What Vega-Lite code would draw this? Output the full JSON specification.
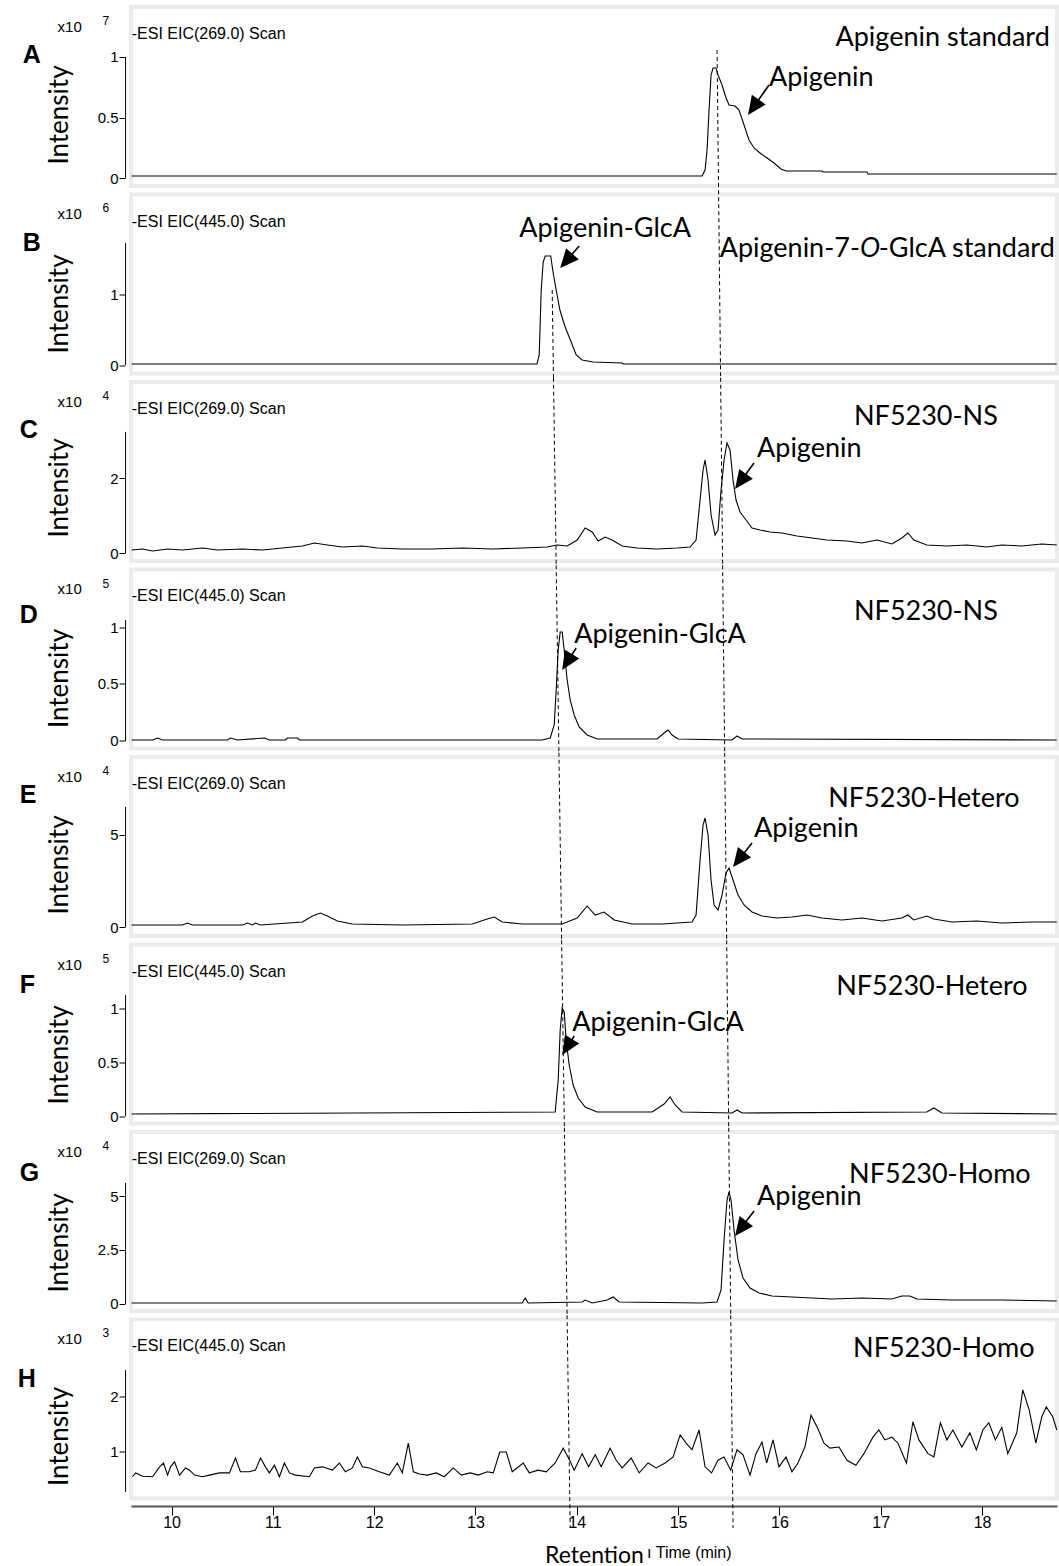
{
"$schema": "https://vega.github.io/schema/vega-lite/v6.json",
"background": "white",
"padding": {"left": 15, "top": 5, "right": 0, "bottom": 0},
"spacing": 8.5,
"bounds": "flush",
"resolve": {"scale": {"x": "independent", "y": "independent"}},
"config": {
  "view": {"stroke": "#ebebeb", "strokeWidth": 4},
  "axisY": {"title": null, "domain": false, "tickSize": 6, "tickColor": "black", "offset": 6, "labelFont": "Liberation Sans", "labelFontSize": 15, "labelColor": "black", "labelPadding": 1, "format": ".2~g", "grid": false},
  "style": {
    "lt": {"font": "Liberation Sans", "fontSize": 25, "fontWeight": "bold", "align": "left", "baseline": "alphabetic", "fill": "black"},
    "x10": {"font": "Liberation Sans", "fontSize": 15, "align": "left", "baseline": "alphabetic", "fill": "black"},
    "ex": {"font": "Liberation Sans", "fontSize": 12, "align": "left", "baseline": "alphabetic", "fill": "black"},
    "esi": {"font": "Liberation Sans", "fontSize": 16, "align": "left", "baseline": "alphabetic", "fill": "black"},
    "sr": {"font": "Lato", "fontSize": 27, "align": "right", "baseline": "alphabetic", "fill": "black"},
    "sc": {"font": "Lato", "fontSize": 27, "align": "center", "baseline": "alphabetic", "fill": "black"},
    "si": {"font": "Lato", "fontSize": 27, "fontStyle": "italic", "align": "left", "baseline": "alphabetic", "fill": "black"},
    "an": {"font": "Lato", "fontSize": 27, "align": "left", "baseline": "alphabetic", "fill": "black"},
    "in": {"font": "Lato", "fontSize": 26, "align": "center", "baseline": "alphabetic", "angle": 270, "fill": "black"},
    "tm": {"font": "Liberation Sans", "fontSize": 16, "align": "left", "baseline": "alphabetic", "fill": "black"}
  }
},
"datasets": {
"tr": [
{"p":"A","t":9.6055,"v":0.0165},{"p":"A","t":15.2367,"v":0.0165},{"p":"A","t":15.2663,"v":0.0661},{"p":"A","t":15.286,"v":0.2314},{"p":"A","t":15.3057,"v":0.562},{"p":"A","t":15.3254,"v":0.8512},{"p":"A","t":15.3452,"v":0.9091},{"p":"A","t":15.3747,"v":0.9091},{"p":"A","t":15.3945,"v":0.8512},{"p":"A","t":15.4339,"v":0.7686},{"p":"A","t":15.4734,"v":0.6612},{"p":"A","t":15.5029,"v":0.6033},{"p":"A","t":15.5621,"v":0.595},{"p":"A","t":15.6016,"v":0.562},{"p":"A","t":15.6509,"v":0.438},{"p":"A","t":15.7002,"v":0.314},{"p":"A","t":15.7495,"v":0.2479},{"p":"A","t":15.8087,"v":0.2066},{"p":"A","t":15.8777,"v":0.1653},{"p":"A","t":15.9467,"v":0.124},{"p":"A","t":16.0158,"v":0.0744},{"p":"A","t":16.0651,"v":0.0579},{"p":"A","t":16.4201,"v":0.0579},{"p":"A","t":16.43,"v":0.0496},{"p":"A","t":16.8639,"v":0.0496},{"p":"A","t":16.8737,"v":0.0331},{"p":"A","t":18.7377,"v":0.0331},
{"p":"B","t":9.6055,"v":0.0141},{"p":"B","t":13.6075,"v":0.0141},{"p":"B","t":13.6292,"v":0.1408},{"p":"B","t":13.6489,"v":1.0563},{"p":"B","t":13.6686,"v":1.4507},{"p":"B","t":13.6883,"v":1.5352},{"p":"B","t":13.7426,"v":1.5352},{"p":"B","t":13.7672,"v":1.2958},{"p":"B","t":13.7968,"v":1.0563},{"p":"B","t":13.8333,"v":0.7746},{"p":"B","t":13.8856,"v":0.5352},{"p":"B","t":13.9448,"v":0.3239},{"p":"B","t":13.9941,"v":0.1408},{"p":"B","t":14.0532,"v":0.0704},{"p":"B","t":14.1617,"v":0.0423},{"p":"B","t":14.4477,"v":0.0282},{"p":"B","t":14.4576,"v":0.0141},{"p":"B","t":18.7377,"v":0.0141},
{"p":"C","t":9.6055,"v":0.08},{"p":"C","t":9.714,"v":0.1067},{"p":"C","t":9.8126,"v":0.0533},{"p":"C","t":9.9606,"v":0.1067},{"p":"C","t":10.1085,"v":0.08},{"p":"C","t":10.3057,"v":0.1333},{"p":"C","t":10.4536,"v":0.08},{"p":"C","t":10.7002,"v":0.1067},{"p":"C","t":10.8974,"v":0.08},{"p":"C","t":11.0947,"v":0.1333},{"p":"C","t":11.2919,"v":0.1867},{"p":"C","t":11.4103,"v":0.2667},{"p":"C","t":11.5385,"v":0.2133},{"p":"C","t":11.6864,"v":0.16},{"p":"C","t":11.8836,"v":0.1867},{"p":"C","t":12.0315,"v":0.1333},{"p":"C","t":12.2781,"v":0.1067},{"p":"C","t":12.574,"v":0.1067},{"p":"C","t":12.8698,"v":0.1333},{"p":"C","t":13.1657,"v":0.1067},{"p":"C","t":13.4615,"v":0.1333},{"p":"C","t":13.7081,"v":0.16},{"p":"C","t":13.8067,"v":0.2133},{"p":"C","t":13.9053,"v":0.1867},{"p":"C","t":14.0039,"v":0.3467},{"p":"C","t":14.0828,"v":0.6667},{"p":"C","t":14.1519,"v":0.56},{"p":"C","t":14.211,"v":0.32},{"p":"C","t":14.2801,"v":0.4267},{"p":"C","t":14.3491,"v":0.3467},{"p":"C","t":14.4477,"v":0.1867},{"p":"C","t":14.5956,"v":0.1333},{"p":"C","t":14.7929,"v":0.1067},{"p":"C","t":14.9901,"v":0.1333},{"p":"C","t":15.1183,"v":0.16},{"p":"C","t":15.1775,"v":0.3467},{"p":"C","t":15.2169,"v":1.4133},{"p":"C","t":15.2465,"v":2.2133},{"p":"C","t":15.2663,"v":2.48},{"p":"C","t":15.2958,"v":1.9467},{"p":"C","t":15.3254,"v":1.0133},{"p":"C","t":15.3649,"v":0.48},{"p":"C","t":15.3945,"v":0.6133},{"p":"C","t":15.424,"v":1.68},{"p":"C","t":15.4537,"v":2.48},{"p":"C","t":15.4832,"v":2.9333},{"p":"C","t":15.5128,"v":2.7467},{"p":"C","t":15.5424,"v":1.9467},{"p":"C","t":15.572,"v":1.4133},{"p":"C","t":15.6114,"v":1.0933},{"p":"C","t":15.6706,"v":0.88},{"p":"C","t":15.7298,"v":0.6667},{"p":"C","t":15.8087,"v":0.6133},{"p":"C","t":15.9073,"v":0.56},{"p":"C","t":16.0256,"v":0.5333},{"p":"C","t":16.1736,"v":0.4533},{"p":"C","t":16.3215,"v":0.4},{"p":"C","t":16.4694,"v":0.3467},{"p":"C","t":16.6666,"v":0.32},{"p":"C","t":16.8146,"v":0.2667},{"p":"C","t":16.9625,"v":0.3467},{"p":"C","t":17.1104,"v":0.24},{"p":"C","t":17.209,"v":0.4},{"p":"C","t":17.2682,"v":0.5333},{"p":"C","t":17.3274,"v":0.3467},{"p":"C","t":17.4556,"v":0.2133},{"p":"C","t":17.6528,"v":0.1867},{"p":"C","t":17.8501,"v":0.2133},{"p":"C","t":18.0473,"v":0.16},{"p":"C","t":18.1952,"v":0.2133},{"p":"C","t":18.3925,"v":0.1867},{"p":"C","t":18.5897,"v":0.24},{"p":"C","t":18.7377,"v":0.2133},
{"p":"D","t":9.6055,"v":0.0088},{"p":"D","t":9.8126,"v":0.0088},{"p":"D","t":9.8619,"v":0.0263},{"p":"D","t":9.9112,"v":0.0088},{"p":"D","t":10.5523,"v":0.0088},{"p":"D","t":10.5819,"v":0.0263},{"p":"D","t":10.6509,"v":0.0088},{"p":"D","t":10.9172,"v":0.0263},{"p":"D","t":10.9665,"v":0.0088},{"p":"D","t":11.1243,"v":0.0088},{"p":"D","t":11.144,"v":0.0263},{"p":"D","t":11.2426,"v":0.0263},{"p":"D","t":11.2623,"v":0.0088},{"p":"D","t":13.6588,"v":0.0088},{"p":"D","t":13.7377,"v":0.0263},{"p":"D","t":13.7771,"v":0.1404},{"p":"D","t":13.7968,"v":0.4474},{"p":"D","t":13.8166,"v":0.7982},{"p":"D","t":13.8363,"v":0.9561},{"p":"D","t":13.856,"v":0.9561},{"p":"D","t":13.8757,"v":0.7982},{"p":"D","t":13.9053,"v":0.5351},{"p":"D","t":13.9349,"v":0.3596},{"p":"D","t":13.9743,"v":0.2281},{"p":"D","t":14.0237,"v":0.1228},{"p":"D","t":14.1025,"v":0.0526},{"p":"D","t":14.2012,"v":0.0175},{"p":"D","t":14.7929,"v":0.0175},{"p":"D","t":14.8619,"v":0.0702},{"p":"D","t":14.9014,"v":0.0965},{"p":"D","t":14.9408,"v":0.0526},{"p":"D","t":15.0,"v":0.0175},{"p":"D","t":15.5325,"v":0.0088},{"p":"D","t":15.5818,"v":0.0439},{"p":"D","t":15.6311,"v":0.0175},{"p":"D","t":18.7377,"v":0.0088},
{"p":"E","t":9.6055,"v":0.1087},{"p":"E","t":10.1085,"v":0.1087},{"p":"E","t":10.1578,"v":0.2174},{"p":"E","t":10.2071,"v":0.1087},{"p":"E","t":10.7002,"v":0.1087},{"p":"E","t":10.7495,"v":0.2174},{"p":"E","t":10.7988,"v":0.1087},{"p":"E","t":10.8284,"v":0.2174},{"p":"E","t":10.8777,"v":0.1087},{"p":"E","t":11.2919,"v":0.2717},{"p":"E","t":11.3905,"v":0.5978},{"p":"E","t":11.4694,"v":0.7609},{"p":"E","t":11.5385,"v":0.5978},{"p":"E","t":11.6371,"v":0.3261},{"p":"E","t":11.785,"v":0.163},{"p":"E","t":12.2781,"v":0.1087},{"p":"E","t":12.9684,"v":0.163},{"p":"E","t":13.1164,"v":0.4348},{"p":"E","t":13.1854,"v":0.5435},{"p":"E","t":13.2643,"v":0.2717},{"p":"E","t":13.4615,"v":0.163},{"p":"E","t":13.856,"v":0.163},{"p":"E","t":14.0039,"v":0.4891},{"p":"E","t":14.1025,"v":1.1413},{"p":"E","t":14.1814,"v":0.6522},{"p":"E","t":14.2702,"v":0.8152},{"p":"E","t":14.3688,"v":0.3804},{"p":"E","t":14.5463,"v":0.163},{"p":"E","t":14.8422,"v":0.163},{"p":"E","t":15.138,"v":0.2717},{"p":"E","t":15.1775,"v":0.6522},{"p":"E","t":15.2169,"v":3.6413},{"p":"E","t":15.2465,"v":5.5435},{"p":"E","t":15.2663,"v":5.9239},{"p":"E","t":15.2958,"v":5.0},{"p":"E","t":15.3254,"v":2.5543},{"p":"E","t":15.355,"v":1.1957},{"p":"E","t":15.3945,"v":0.9239},{"p":"E","t":15.4339,"v":1.7391},{"p":"E","t":15.4734,"v":2.9348},{"p":"E","t":15.5029,"v":3.2065},{"p":"E","t":15.5424,"v":2.5543},{"p":"E","t":15.5917,"v":1.7391},{"p":"E","t":15.6509,"v":1.1957},{"p":"E","t":15.7298,"v":0.8152},{"p":"E","t":15.8284,"v":0.5978},{"p":"E","t":15.9763,"v":0.4891},{"p":"E","t":16.1242,"v":0.5435},{"p":"E","t":16.2722,"v":0.6522},{"p":"E","t":16.4201,"v":0.4891},{"p":"E","t":16.6173,"v":0.3804},{"p":"E","t":16.8146,"v":0.4891},{"p":"E","t":17.0118,"v":0.3261},{"p":"E","t":17.209,"v":0.4891},{"p":"E","t":17.2682,"v":0.6522},{"p":"E","t":17.3274,"v":0.3804},{"p":"E","t":17.4556,"v":0.5978},{"p":"E","t":17.5246,"v":0.4348},{"p":"E","t":17.7021,"v":0.2717},{"p":"E","t":17.9487,"v":0.3261},{"p":"E","t":18.1952,"v":0.2174},{"p":"E","t":18.4911,"v":0.2717},{"p":"E","t":18.7377,"v":0.2717},
{"p":"F","t":9.6055,"v":0.0185},{"p":"F","t":13.787,"v":0.037},{"p":"F","t":13.8166,"v":0.3333},{"p":"F","t":13.8363,"v":0.7963},{"p":"F","t":13.856,"v":1.0},{"p":"F","t":13.8757,"v":0.963},{"p":"F","t":13.8954,"v":0.7037},{"p":"F","t":13.925,"v":0.4722},{"p":"F","t":13.9645,"v":0.287},{"p":"F","t":14.0138,"v":0.1667},{"p":"F","t":14.0828,"v":0.0833},{"p":"F","t":14.2012,"v":0.037},{"p":"F","t":14.7436,"v":0.037},{"p":"F","t":14.8619,"v":0.1111},{"p":"F","t":14.9211,"v":0.1759},{"p":"F","t":14.9704,"v":0.1019},{"p":"F","t":15.0394,"v":0.037},{"p":"F","t":15.5325,"v":0.0278},{"p":"F","t":15.5818,"v":0.0556},{"p":"F","t":15.6311,"v":0.0278},{"p":"F","t":17.4556,"v":0.037},{"p":"F","t":17.5246,"v":0.0741},{"p":"F","t":17.6035,"v":0.0278},{"p":"F","t":18.7377,"v":0.0185},
{"p":"G","t":9.6055,"v":0.0463},{"p":"G","t":13.4615,"v":0.0463},{"p":"G","t":13.4911,"v":0.2778},{"p":"G","t":13.5207,"v":0.0463},{"p":"G","t":14.0532,"v":0.0926},{"p":"G","t":14.0828,"v":0.1852},{"p":"G","t":14.1519,"v":0.0463},{"p":"G","t":14.2998,"v":0.1852},{"p":"G","t":14.359,"v":0.3241},{"p":"G","t":14.4181,"v":0.0926},{"p":"G","t":15.2367,"v":0.0463},{"p":"G","t":15.3846,"v":0.0926},{"p":"G","t":15.424,"v":0.6481},{"p":"G","t":15.4537,"v":2.963},{"p":"G","t":15.4832,"v":4.8148},{"p":"G","t":15.5029,"v":5.1852},{"p":"G","t":15.5227,"v":4.8148},{"p":"G","t":15.5523,"v":3.4259},{"p":"G","t":15.5917,"v":2.037},{"p":"G","t":15.641,"v":1.2037},{"p":"G","t":15.71,"v":0.7407},{"p":"G","t":15.7988,"v":0.5093},{"p":"G","t":15.927,"v":0.3704},{"p":"G","t":16.1242,"v":0.3241},{"p":"G","t":16.3215,"v":0.2778},{"p":"G","t":16.5187,"v":0.2315},{"p":"G","t":16.8146,"v":0.2778},{"p":"G","t":17.1104,"v":0.2315},{"p":"G","t":17.209,"v":0.3704},{"p":"G","t":17.2879,"v":0.3704},{"p":"G","t":17.357,"v":0.2315},{"p":"G","t":17.7021,"v":0.1852},{"p":"G","t":18.1952,"v":0.1852},{"p":"G","t":18.7377,"v":0.1389},
{"p":"H","t":9.615,"v":0.55},{"p":"H","t":9.645,"v":0.62},{"p":"H","t":9.714,"v":0.56},{"p":"H","t":9.813,"v":0.55},{"p":"H","t":9.882,"v":0.73},{"p":"H","t":9.921,"v":0.8},{"p":"H","t":9.961,"v":0.58},{"p":"H","t":9.99,"v":0.73},{"p":"H","t":10.03,"v":0.82},{"p":"H","t":10.079,"v":0.58},{"p":"H","t":10.138,"v":0.71},{"p":"H","t":10.178,"v":0.67},{"p":"H","t":10.227,"v":0.58},{"p":"H","t":10.306,"v":0.55},{"p":"H","t":10.375,"v":0.58},{"p":"H","t":10.473,"v":0.62},{"p":"H","t":10.572,"v":0.62},{"p":"H","t":10.631,"v":0.89},{"p":"H","t":10.68,"v":0.64},{"p":"H","t":10.769,"v":0.64},{"p":"H","t":10.828,"v":0.67},{"p":"H","t":10.878,"v":0.89},{"p":"H","t":10.927,"v":0.73},{"p":"H","t":10.966,"v":0.62},{"p":"H","t":11.016,"v":0.76},{"p":"H","t":11.065,"v":0.55},{"p":"H","t":11.114,"v":0.8},{"p":"H","t":11.164,"v":0.62},{"p":"H","t":11.223,"v":0.58},{"p":"H","t":11.361,"v":0.55},{"p":"H","t":11.41,"v":0.71},{"p":"H","t":11.489,"v":0.73},{"p":"H","t":11.588,"v":0.67},{"p":"H","t":11.657,"v":0.8},{"p":"H","t":11.716,"v":0.64},{"p":"H","t":11.785,"v":0.71},{"p":"H","t":11.834,"v":0.91},{"p":"H","t":11.884,"v":0.73},{"p":"H","t":11.953,"v":0.71},{"p":"H","t":12.051,"v":0.64},{"p":"H","t":12.15,"v":0.58},{"p":"H","t":12.229,"v":0.8},{"p":"H","t":12.278,"v":0.62},{"p":"H","t":12.337,"v":1.16},{"p":"H","t":12.387,"v":0.64},{"p":"H","t":12.446,"v":0.6},{"p":"H","t":12.525,"v":0.58},{"p":"H","t":12.613,"v":0.62},{"p":"H","t":12.692,"v":0.55},{"p":"H","t":12.781,"v":0.71},{"p":"H","t":12.86,"v":0.58},{"p":"H","t":12.949,"v":0.62},{"p":"H","t":13.028,"v":0.58},{"p":"H","t":13.116,"v":0.64},{"p":"H","t":13.176,"v":0.62},{"p":"H","t":13.24,"v":1.0},{"p":"H","t":13.304,"v":1.0},{"p":"H","t":13.363,"v":0.64},{"p":"H","t":13.472,"v":0.8},{"p":"H","t":13.531,"v":0.62},{"p":"H","t":13.619,"v":0.67},{"p":"H","t":13.698,"v":0.64},{"p":"H","t":13.787,"v":0.8},{"p":"H","t":13.866,"v":1.07},{"p":"H","t":13.93,"v":0.85},{"p":"H","t":13.974,"v":0.67},{"p":"H","t":14.053,"v":0.97},{"p":"H","t":14.117,"v":0.73},{"p":"H","t":14.182,"v":0.95},{"p":"H","t":14.241,"v":0.73},{"p":"H","t":14.329,"v":1.07},{"p":"H","t":14.389,"v":0.85},{"p":"H","t":14.448,"v":0.71},{"p":"H","t":14.537,"v":0.89},{"p":"H","t":14.616,"v":0.62},{"p":"H","t":14.704,"v":0.8},{"p":"H","t":14.783,"v":0.71},{"p":"H","t":14.872,"v":0.8},{"p":"H","t":14.951,"v":0.91},{"p":"H","t":15.02,"v":1.31},{"p":"H","t":15.079,"v":1.16},{"p":"H","t":15.138,"v":1.04},{"p":"H","t":15.207,"v":1.4},{"p":"H","t":15.266,"v":0.73},{"p":"H","t":15.33,"v":0.62},{"p":"H","t":15.394,"v":0.85},{"p":"H","t":15.453,"v":0.91},{"p":"H","t":15.519,"v":0.67},{"p":"H","t":15.582,"v":1.04},{"p":"H","t":15.641,"v":0.95},{"p":"H","t":15.71,"v":0.58},{"p":"H","t":15.769,"v":0.97},{"p":"H","t":15.828,"v":1.18},{"p":"H","t":15.874,"v":0.8},{"p":"H","t":15.937,"v":1.22},{"p":"H","t":15.996,"v":0.73},{"p":"H","t":16.065,"v":0.91},{"p":"H","t":16.124,"v":0.64},{"p":"H","t":16.183,"v":0.8},{"p":"H","t":16.252,"v":1.09},{"p":"H","t":16.312,"v":1.67},{"p":"H","t":16.376,"v":1.44},{"p":"H","t":16.44,"v":1.16},{"p":"H","t":16.499,"v":1.07},{"p":"H","t":16.588,"v":1.09},{"p":"H","t":16.667,"v":0.85},{"p":"H","t":16.755,"v":0.76},{"p":"H","t":16.834,"v":0.97},{"p":"H","t":16.923,"v":1.27},{"p":"H","t":16.982,"v":1.4},{"p":"H","t":17.041,"v":1.22},{"p":"H","t":17.11,"v":1.27},{"p":"H","t":17.17,"v":1.16},{"p":"H","t":17.254,"v":0.8},{"p":"H","t":17.318,"v":1.55},{"p":"H","t":17.377,"v":1.22},{"p":"H","t":17.466,"v":0.97},{"p":"H","t":17.525,"v":0.91},{"p":"H","t":17.589,"v":1.53},{"p":"H","t":17.653,"v":1.22},{"p":"H","t":17.712,"v":1.4},{"p":"H","t":17.801,"v":1.09},{"p":"H","t":17.88,"v":1.35},{"p":"H","t":17.944,"v":1.04},{"p":"H","t":18.008,"v":1.4},{"p":"H","t":18.067,"v":1.53},{"p":"H","t":18.132,"v":1.22},{"p":"H","t":18.195,"v":1.45},{"p":"H","t":18.254,"v":0.97},{"p":"H","t":18.343,"v":1.35},{"p":"H","t":18.402,"v":2.13},{"p":"H","t":18.466,"v":1.76},{"p":"H","t":18.531,"v":1.16},{"p":"H","t":18.59,"v":1.64},{"p":"H","t":18.634,"v":1.82},{"p":"H","t":18.698,"v":1.64},{"p":"H","t":18.738,"v":1.4}
],
"gd": [
{"p":"A","t":15.3846,"v":1.0579,"t2":15.3996,"v2":-0.1012},
{"p":"B","t":15.3996,"v":2.4613,"t2":15.4197,"v2":-0.1796},
{"p":"B","t":13.7574,"v":1.0563,"t2":13.77,"v2":-0.1796},
{"p":"C","t":15.4197,"v":4.6733,"t2":15.4397,"v2":-0.3267},
{"p":"C","t":13.77,"v":4.6733,"t2":13.7968,"v2":-0.3267},
{"p":"D","t":15.4397,"v":1.5417,"t2":15.4597,"v2":-0.1031},
{"p":"D","t":13.7968,"v":1.5417,"t2":13.8238,"v2":-0.1031},
{"p":"E","t":15.4597,"v":9.4701,"t2":15.4797,"v2":-0.7201},
{"p":"E","t":13.8238,"v":9.4701,"t2":13.8506,"v2":-0.7201},
{"p":"F","t":15.4797,"v":1.6273,"t2":15.4997,"v2":-0.1088},
{"p":"F","t":13.8506,"v":1.6273,"t2":13.8775,"v2":-0.1088},
{"p":"G","t":15.4997,"v":8.1597,"t2":15.5197,"v2":-0.5208},
{"p":"G","t":13.8775,"v":8.1597,"t2":13.9044,"v2":-0.5208},
{"p":"H","t":15.5197,"v":3.4864,"t2":15.5424,"v2":-0.3818},
{"p":"H","t":13.9044,"v":3.4864,"t2":13.9349,"v2":-0.3818}
],
"ax": [
{"p":"A","t":9.5464,"v":0,"v2":1.0},
{"p":"B","t":9.5464,"v":0,"v2":1.718},
{"p":"C","t":9.5464,"v":0,"v2":3.227},
{"p":"D","t":9.5464,"v":0,"v2":1.061},
{"p":"E","t":9.5464,"v":0,"v2":6.52},
{"p":"F","t":9.5464,"v":0,"v2":1.12},
{"p":"G","t":9.5464,"v":0,"v2":5.6},
{"p":"H","t":9.5464,"v":0.273,"v2":2.49}
],
"ar": [
{"p":"A","t":15.8974,"v":0.7686,"t2":15.7357,"v2":0.5752},
{"p":"B","t":14.0237,"v":1.6761,"t2":13.8876,"v2":1.4521},
{"p":"C","t":15.7495,"v":2.4,"t2":15.6085,"v2":1.88},
{"p":"D","t":13.9941,"v":0.8158,"t2":13.8984,"v2":0.6816},
{"p":"E","t":15.7298,"v":4.5652,"t2":15.5917,"v2":3.6033},
{"p":"F","t":13.9744,"v":0.7407,"t2":13.8984,"v2":0.6278},
{"p":"G","t":15.7495,"v":4.3056,"t2":15.6095,"v2":3.4444}
],
"ah": [
{"p":"A","t":15.6903,"v":0.5207},
{"p":"B","t":13.8363,"v":1.3662},
{"p":"C","t":15.5621,"v":1.7067},
{"p":"D","t":13.856,"v":0.6228},
{"p":"E","t":15.5424,"v":3.2609},
{"p":"F","t":13.856,"v":0.5648},
{"p":"G","t":15.5621,"v":3.1481}
],
"tx": [
{"p":"A","k":"lt","t":8.5306,"v":0.9504,"s":"A"},
{"p":"A","k":"x10","t":8.8757,"v":1.2066,"s":"x10"},
{"p":"A","k":"ex","t":9.3195,"v":1.2645,"s":"7"},
{"p":"A","k":"esi","t":9.607,"v":1.1488,"s":"-ESI EIC(269.0) Scan"},
{"p":"A","k":"sr","t":18.6686,"v":1.0909,"s":"Apigenin standard"},
{"p":"A","k":"an","t":15.8974,"v":0.7603,"s":"Apigenin"},
{"p":"A","k":"in","t":8.9744,"v":0.5207,"s":"Intensity"},
{"p":"B","k":"lt","t":8.5306,"v":1.6056,"s":"B"},
{"p":"B","k":"x10","t":8.8757,"v":2.0493,"s":"x10"},
{"p":"B","k":"ex","t":9.3195,"v":2.1479,"s":"6"},
{"p":"B","k":"esi","t":9.607,"v":1.9507,"s":"-ESI EIC(445.0) Scan"},
{"p":"B","k":"sr","t":16.7948,"v":1.5211,"s":"Apigenin-7-"},
{"p":"B","k":"si","t":16.7948,"v":1.5211,"s":"O"},
{"p":"B","k":"sr","t":18.718,"v":1.5211,"s":"-GlcA standard"},
{"p":"B","k":"an","t":13.4319,"v":1.8028,"s":"Apigenin-GlcA"},
{"p":"B","k":"in","t":8.9744,"v":0.859,"s":"Intensity"},
{"p":"C","k":"lt","t":8.501,"v":3.0667,"s":"C"},
{"p":"C","k":"x10","t":8.8757,"v":3.8933,"s":"x10"},
{"p":"C","k":"ex","t":9.3195,"v":4.08,"s":"4"},
{"p":"C","k":"esi","t":9.607,"v":3.7067,"s":"-ESI EIC(269.0) Scan"},
{"p":"C","k":"sc","t":17.446,"v":3.4133,"s":"NF5230-NS"},
{"p":"C","k":"an","t":15.7791,"v":2.56,"s":"Apigenin"},
{"p":"C","k":"in","t":8.9744,"v":1.733,"s":"Intensity"},
{"p":"D","k":"lt","t":8.501,"v":1.0351,"s":"D"},
{"p":"D","k":"x10","t":8.8757,"v":1.2851,"s":"x10"},
{"p":"D","k":"ex","t":9.3195,"v":1.3465,"s":"5"},
{"p":"D","k":"esi","t":9.607,"v":1.2237,"s":"-ESI EIC(445.0) Scan"},
{"p":"D","k":"sc","t":17.446,"v":1.0614,"s":"NF5230-NS"},
{"p":"D","k":"an","t":13.9743,"v":0.8596,"s":"Apigenin-GlcA"},
{"p":"D","k":"in","t":8.9744,"v":0.548,"s":"Intensity"},
{"p":"E","k":"lt","t":8.501,"v":6.7391,"s":"E"},
{"p":"E","k":"x10","t":8.8757,"v":7.8804,"s":"x10"},
{"p":"E","k":"ex","t":9.3195,"v":8.2609,"s":"4"},
{"p":"E","k":"esi","t":9.607,"v":7.5,"s":"-ESI EIC(269.0) Scan"},
{"p":"E","k":"sc","t":17.426,"v":6.5217,"s":"NF5230-Hetero"},
{"p":"E","k":"an","t":15.7495,"v":4.8913,"s":"Apigenin"},
{"p":"E","k":"in","t":8.9744,"v":3.37,"s":"Intensity"},
{"p":"F","k":"lt","t":8.501,"v":1.1389,"s":"F"},
{"p":"F","k":"x10","t":8.8757,"v":1.3565,"s":"x10"},
{"p":"F","k":"ex","t":9.3195,"v":1.4213,"s":"5"},
{"p":"F","k":"esi","t":9.607,"v":1.2917,"s":"-ESI EIC(445.0) Scan"},
{"p":"F","k":"sc","t":17.505,"v":1.1204,"s":"NF5230-Hetero"},
{"p":"F","k":"an","t":13.9546,"v":0.787,"s":"Apigenin-GlcA"},
{"p":"F","k":"in","t":8.9744,"v":0.565,"s":"Intensity"},
{"p":"G","k":"lt","t":8.501,"v":5.6944,"s":"G"},
{"p":"G","k":"x10","t":8.8757,"v":6.8056,"s":"x10"},
{"p":"G","k":"ex","t":9.3195,"v":7.1296,"s":"4"},
{"p":"G","k":"esi","t":9.607,"v":6.4815,"s":"-ESI EIC(269.0) Scan"},
{"p":"G","k":"sc","t":17.584,"v":5.6019,"s":"NF5230-Homo"},
{"p":"G","k":"an","t":15.7791,"v":4.5833,"s":"Apigenin"},
{"p":"G","k":"in","t":8.9744,"v":2.824,"s":"Intensity"},
{"p":"H","k":"lt","t":8.4813,"v":2.1818,"s":"H"},
{"p":"H","k":"x10","t":8.8757,"v":2.9545,"s":"x10"},
{"p":"H","k":"ex","t":9.3195,"v":3.0818,"s":"3"},
{"p":"H","k":"esi","t":9.607,"v":2.8273,"s":"-ESI EIC(445.0) Scan"},
{"p":"H","k":"sc","t":17.623,"v":2.7273,"s":"NF5230-Homo"},
{"p":"H","k":"in","t":8.9744,"v":1.282,"s":"Intensity"},
{"p":"H","k":"tm","t":14.6943,"v":-0.9273,"s":"ı Time (min)"}
]
},
"vconcat": [
{"width": 926, "height": 179,
 "encoding": {"x": {"field": "t", "type": "quantitative", "scale": {"domain": [9.6, 18.74], "nice": false, "zero": false}, "axis": null},
  "y": {"field": "v", "type": "quantitative", "scale": {"domain": [-0.0661, 1.4132], "nice": false, "zero": false}, "axis": {"values": [0, 0.5, 1]}}},
 "layer": [
  {"data": {"name": "tr"}, "transform": [{"filter": "datum.p=='A'"}], "mark": {"type": "line", "color": "black", "strokeWidth": 1.1}},
  {"data": {"name": "gd"}, "transform": [{"filter": "datum.p=='A'"}], "mark": {"type": "rule", "color": "black", "strokeWidth": 1, "strokeDash": [4, 3]}, "encoding": {"x2": {"field": "t2"}, "y2": {"field": "v2"}}},
  {"data": {"name": "ax"}, "transform": [{"filter": "datum.p=='A'"}], "mark": {"type": "rule", "color": "black", "strokeWidth": 1}, "encoding": {"y2": {"field": "v2"}}},
  {"data": {"name": "ar"}, "transform": [{"filter": "datum.p=='A'"}], "mark": {"type": "rule", "color": "black", "strokeWidth": 1.6}, "encoding": {"x2": {"field": "t2"}, "y2": {"field": "v2"}}},
  {"data": {"name": "ah"}, "transform": [{"filter": "datum.p=='A'"}], "mark": {"type": "point", "shape": "M0,0L0.45,1L-0.45,1Z", "filled": true, "color": "black", "opacity": 1, "size": 1400, "angle": 215}},
  {"data": {"name": "tx"}, "transform": [{"filter": "datum.p=='A'&&datum.k=='lt'"}], "mark": {"type": "text", "style": "lt"}, "encoding": {"text": {"field": "s"}}},
  {"data": {"name": "tx"}, "transform": [{"filter": "datum.p=='A'&&datum.k=='x10'"}], "mark": {"type": "text", "style": "x10"}, "encoding": {"text": {"field": "s"}}},
  {"data": {"name": "tx"}, "transform": [{"filter": "datum.p=='A'&&datum.k=='ex'"}], "mark": {"type": "text", "style": "ex"}, "encoding": {"text": {"field": "s"}}},
  {"data": {"name": "tx"}, "transform": [{"filter": "datum.p=='A'&&datum.k=='esi'"}], "mark": {"type": "text", "style": "esi"}, "encoding": {"text": {"field": "s"}}},
  {"data": {"name": "tx"}, "transform": [{"filter": "datum.p=='A'&&datum.k=='sr'"}], "mark": {"type": "text", "style": "sr"}, "encoding": {"text": {"field": "s"}}},
  {"data": {"name": "tx"}, "transform": [{"filter": "datum.p=='A'&&datum.k=='an'"}], "mark": {"type": "text", "style": "an"}, "encoding": {"text": {"field": "s"}}},
  {"data": {"name": "tx"}, "transform": [{"filter": "datum.p=='A'&&datum.k=='in'"}], "mark": {"type": "text", "style": "in"}, "encoding": {"text": {"field": "s"}}}
 ]},
{"width": 926, "height": 179,
 "encoding": {"x": {"field": "t", "type": "quantitative", "scale": {"domain": [9.6, 18.74], "nice": false, "zero": false}, "axis": null},
  "y": {"field": "v", "type": "quantitative", "scale": {"domain": [-0.1197, 2.4014], "nice": false, "zero": false}, "axis": {"values": [0, 1]}}},
 "layer": [
  {"data": {"name": "tr"}, "transform": [{"filter": "datum.p=='B'"}], "mark": {"type": "line", "color": "black", "strokeWidth": 1.1}},
  {"data": {"name": "gd"}, "transform": [{"filter": "datum.p=='B'"}], "mark": {"type": "rule", "color": "black", "strokeWidth": 1, "strokeDash": [4, 3]}, "encoding": {"x2": {"field": "t2"}, "y2": {"field": "v2"}}},
  {"data": {"name": "ax"}, "transform": [{"filter": "datum.p=='B'"}], "mark": {"type": "rule", "color": "black", "strokeWidth": 1}, "encoding": {"y2": {"field": "v2"}}},
  {"data": {"name": "ar"}, "transform": [{"filter": "datum.p=='B'"}], "mark": {"type": "rule", "color": "black", "strokeWidth": 1.6}, "encoding": {"x2": {"field": "t2"}, "y2": {"field": "v2"}}},
  {"data": {"name": "ah"}, "transform": [{"filter": "datum.p=='B'"}], "mark": {"type": "point", "shape": "M0,0L0.45,1L-0.45,1Z", "filled": true, "color": "black", "opacity": 1, "size": 1400, "angle": 221}},
  {"data": {"name": "tx"}, "transform": [{"filter": "datum.p=='B'&&datum.k=='lt'"}], "mark": {"type": "text", "style": "lt"}, "encoding": {"text": {"field": "s"}}},
  {"data": {"name": "tx"}, "transform": [{"filter": "datum.p=='B'&&datum.k=='x10'"}], "mark": {"type": "text", "style": "x10"}, "encoding": {"text": {"field": "s"}}},
  {"data": {"name": "tx"}, "transform": [{"filter": "datum.p=='B'&&datum.k=='ex'"}], "mark": {"type": "text", "style": "ex"}, "encoding": {"text": {"field": "s"}}},
  {"data": {"name": "tx"}, "transform": [{"filter": "datum.p=='B'&&datum.k=='esi'"}], "mark": {"type": "text", "style": "esi"}, "encoding": {"text": {"field": "s"}}},
  {"data": {"name": "tx"}, "transform": [{"filter": "datum.p=='B'&&datum.k=='sr'"}], "mark": {"type": "text", "style": "sr"}, "encoding": {"text": {"field": "s"}}},
  {"data": {"name": "tx"}, "transform": [{"filter": "datum.p=='B'&&datum.k=='si'"}], "mark": {"type": "text", "style": "si"}, "encoding": {"text": {"field": "s"}}},
  {"data": {"name": "tx"}, "transform": [{"filter": "datum.p=='B'&&datum.k=='an'"}], "mark": {"type": "text", "style": "an"}, "encoding": {"text": {"field": "s"}}},
  {"data": {"name": "tx"}, "transform": [{"filter": "datum.p=='B'&&datum.k=='in'"}], "mark": {"type": "text", "style": "in"}, "encoding": {"text": {"field": "s"}}}
 ]},
{"width": 926, "height": 179,
 "encoding": {"x": {"field": "t", "type": "quantitative", "scale": {"domain": [9.6, 18.74], "nice": false, "zero": false}, "axis": null},
  "y": {"field": "v", "type": "quantitative", "scale": {"domain": [-0.2133, 4.56], "nice": false, "zero": false}, "axis": {"values": [0, 2]}}},
 "layer": [
  {"data": {"name": "tr"}, "transform": [{"filter": "datum.p=='C'"}], "mark": {"type": "line", "color": "black", "strokeWidth": 1.1}},
  {"data": {"name": "gd"}, "transform": [{"filter": "datum.p=='C'"}], "mark": {"type": "rule", "color": "black", "strokeWidth": 1, "strokeDash": [4, 3]}, "encoding": {"x2": {"field": "t2"}, "y2": {"field": "v2"}}},
  {"data": {"name": "ax"}, "transform": [{"filter": "datum.p=='C'"}], "mark": {"type": "rule", "color": "black", "strokeWidth": 1}, "encoding": {"y2": {"field": "v2"}}},
  {"data": {"name": "ar"}, "transform": [{"filter": "datum.p=='C'"}], "mark": {"type": "rule", "color": "black", "strokeWidth": 1.6}, "encoding": {"x2": {"field": "t2"}, "y2": {"field": "v2"}}},
  {"data": {"name": "ah"}, "transform": [{"filter": "datum.p=='C'"}], "mark": {"type": "point", "shape": "M0,0L0.45,1L-0.45,1Z", "filled": true, "color": "black", "opacity": 1, "size": 1400, "angle": 216}},
  {"data": {"name": "tx"}, "transform": [{"filter": "datum.p=='C'&&datum.k=='lt'"}], "mark": {"type": "text", "style": "lt"}, "encoding": {"text": {"field": "s"}}},
  {"data": {"name": "tx"}, "transform": [{"filter": "datum.p=='C'&&datum.k=='x10'"}], "mark": {"type": "text", "style": "x10"}, "encoding": {"text": {"field": "s"}}},
  {"data": {"name": "tx"}, "transform": [{"filter": "datum.p=='C'&&datum.k=='ex'"}], "mark": {"type": "text", "style": "ex"}, "encoding": {"text": {"field": "s"}}},
  {"data": {"name": "tx"}, "transform": [{"filter": "datum.p=='C'&&datum.k=='esi'"}], "mark": {"type": "text", "style": "esi"}, "encoding": {"text": {"field": "s"}}},
  {"data": {"name": "tx"}, "transform": [{"filter": "datum.p=='C'&&datum.k=='sc'"}], "mark": {"type": "text", "style": "sc"}, "encoding": {"text": {"field": "s"}}},
  {"data": {"name": "tx"}, "transform": [{"filter": "datum.p=='C'&&datum.k=='an'"}], "mark": {"type": "text", "style": "an"}, "encoding": {"text": {"field": "s"}}},
  {"data": {"name": "tx"}, "transform": [{"filter": "datum.p=='C'&&datum.k=='in'"}], "mark": {"type": "text", "style": "in"}, "encoding": {"text": {"field": "s"}}}
 ]},
{"width": 926, "height": 179,
 "encoding": {"x": {"field": "t", "type": "quantitative", "scale": {"domain": [9.6, 18.74], "nice": false, "zero": false}, "axis": null},
  "y": {"field": "v", "type": "quantitative", "scale": {"domain": [-0.0658, 1.5044], "nice": false, "zero": false}, "axis": {"values": [0, 0.5, 1]}}},
 "layer": [
  {"data": {"name": "tr"}, "transform": [{"filter": "datum.p=='D'"}], "mark": {"type": "line", "color": "black", "strokeWidth": 1.1}},
  {"data": {"name": "gd"}, "transform": [{"filter": "datum.p=='D'"}], "mark": {"type": "rule", "color": "black", "strokeWidth": 1, "strokeDash": [4, 3]}, "encoding": {"x2": {"field": "t2"}, "y2": {"field": "v2"}}},
  {"data": {"name": "ax"}, "transform": [{"filter": "datum.p=='D'"}], "mark": {"type": "rule", "color": "black", "strokeWidth": 1}, "encoding": {"y2": {"field": "v2"}}},
  {"data": {"name": "ar"}, "transform": [{"filter": "datum.p=='D'"}], "mark": {"type": "rule", "color": "black", "strokeWidth": 1.6}, "encoding": {"x2": {"field": "t2"}, "y2": {"field": "v2"}}},
  {"data": {"name": "ah"}, "transform": [{"filter": "datum.p=='D'"}], "mark": {"type": "point", "shape": "M0,0L0.45,1L-0.45,1Z", "filled": true, "color": "black", "opacity": 1, "size": 1400, "angle": 212}},
  {"data": {"name": "tx"}, "transform": [{"filter": "datum.p=='D'&&datum.k=='lt'"}], "mark": {"type": "text", "style": "lt"}, "encoding": {"text": {"field": "s"}}},
  {"data": {"name": "tx"}, "transform": [{"filter": "datum.p=='D'&&datum.k=='x10'"}], "mark": {"type": "text", "style": "x10"}, "encoding": {"text": {"field": "s"}}},
  {"data": {"name": "tx"}, "transform": [{"filter": "datum.p=='D'&&datum.k=='ex'"}], "mark": {"type": "text", "style": "ex"}, "encoding": {"text": {"field": "s"}}},
  {"data": {"name": "tx"}, "transform": [{"filter": "datum.p=='D'&&datum.k=='esi'"}], "mark": {"type": "text", "style": "esi"}, "encoding": {"text": {"field": "s"}}},
  {"data": {"name": "tx"}, "transform": [{"filter": "datum.p=='D'&&datum.k=='sc'"}], "mark": {"type": "text", "style": "sc"}, "encoding": {"text": {"field": "s"}}},
  {"data": {"name": "tx"}, "transform": [{"filter": "datum.p=='D'&&datum.k=='an'"}], "mark": {"type": "text", "style": "an"}, "encoding": {"text": {"field": "s"}}},
  {"data": {"name": "tx"}, "transform": [{"filter": "datum.p=='D'&&datum.k=='in'"}], "mark": {"type": "text", "style": "in"}, "encoding": {"text": {"field": "s"}}}
 ]},
{"width": 926, "height": 179,
 "encoding": {"x": {"field": "t", "type": "quantitative", "scale": {"domain": [9.6, 18.74], "nice": false, "zero": false}, "axis": null},
  "y": {"field": "v", "type": "quantitative", "scale": {"domain": [-0.4891, 9.2391], "nice": false, "zero": false}, "axis": {"values": [0, 5]}}},
 "layer": [
  {"data": {"name": "tr"}, "transform": [{"filter": "datum.p=='E'"}], "mark": {"type": "line", "color": "black", "strokeWidth": 1.1}},
  {"data": {"name": "gd"}, "transform": [{"filter": "datum.p=='E'"}], "mark": {"type": "rule", "color": "black", "strokeWidth": 1, "strokeDash": [4, 3]}, "encoding": {"x2": {"field": "t2"}, "y2": {"field": "v2"}}},
  {"data": {"name": "ax"}, "transform": [{"filter": "datum.p=='E'"}], "mark": {"type": "rule", "color": "black", "strokeWidth": 1}, "encoding": {"y2": {"field": "v2"}}},
  {"data": {"name": "ar"}, "transform": [{"filter": "datum.p=='E'"}], "mark": {"type": "rule", "color": "black", "strokeWidth": 1.6}, "encoding": {"x2": {"field": "t2"}, "y2": {"field": "v2"}}},
  {"data": {"name": "ah"}, "transform": [{"filter": "datum.p=='E'"}], "mark": {"type": "point", "shape": "M0,0L0.45,1L-0.45,1Z", "filled": true, "color": "black", "opacity": 1, "size": 1400, "angle": 218}},
  {"data": {"name": "tx"}, "transform": [{"filter": "datum.p=='E'&&datum.k=='lt'"}], "mark": {"type": "text", "style": "lt"}, "encoding": {"text": {"field": "s"}}},
  {"data": {"name": "tx"}, "transform": [{"filter": "datum.p=='E'&&datum.k=='x10'"}], "mark": {"type": "text", "style": "x10"}, "encoding": {"text": {"field": "s"}}},
  {"data": {"name": "tx"}, "transform": [{"filter": "datum.p=='E'&&datum.k=='ex'"}], "mark": {"type": "text", "style": "ex"}, "encoding": {"text": {"field": "s"}}},
  {"data": {"name": "tx"}, "transform": [{"filter": "datum.p=='E'&&datum.k=='esi'"}], "mark": {"type": "text", "style": "esi"}, "encoding": {"text": {"field": "s"}}},
  {"data": {"name": "tx"}, "transform": [{"filter": "datum.p=='E'&&datum.k=='sc'"}], "mark": {"type": "text", "style": "sc"}, "encoding": {"text": {"field": "s"}}},
  {"data": {"name": "tx"}, "transform": [{"filter": "datum.p=='E'&&datum.k=='an'"}], "mark": {"type": "text", "style": "an"}, "encoding": {"text": {"field": "s"}}},
  {"data": {"name": "tx"}, "transform": [{"filter": "datum.p=='E'&&datum.k=='in'"}], "mark": {"type": "text", "style": "in"}, "encoding": {"text": {"field": "s"}}}
 ]},
{"width": 926, "height": 179,
 "encoding": {"x": {"field": "t", "type": "quantitative", "scale": {"domain": [9.6, 18.74], "nice": false, "zero": false}, "axis": null},
  "y": {"field": "v", "type": "quantitative", "scale": {"domain": [-0.0694, 1.588], "nice": false, "zero": false}, "axis": {"values": [0, 0.5, 1]}}},
 "layer": [
  {"data": {"name": "tr"}, "transform": [{"filter": "datum.p=='F'"}], "mark": {"type": "line", "color": "black", "strokeWidth": 1.1}},
  {"data": {"name": "gd"}, "transform": [{"filter": "datum.p=='F'"}], "mark": {"type": "rule", "color": "black", "strokeWidth": 1, "strokeDash": [4, 3]}, "encoding": {"x2": {"field": "t2"}, "y2": {"field": "v2"}}},
  {"data": {"name": "ax"}, "transform": [{"filter": "datum.p=='F'"}], "mark": {"type": "rule", "color": "black", "strokeWidth": 1}, "encoding": {"y2": {"field": "v2"}}},
  {"data": {"name": "ar"}, "transform": [{"filter": "datum.p=='F'"}], "mark": {"type": "rule", "color": "black", "strokeWidth": 1.6}, "encoding": {"x2": {"field": "t2"}, "y2": {"field": "v2"}}},
  {"data": {"name": "ah"}, "transform": [{"filter": "datum.p=='F'"}], "mark": {"type": "point", "shape": "M0,0L0.45,1L-0.45,1Z", "filled": true, "color": "black", "opacity": 1, "size": 1400, "angle": 212}},
  {"data": {"name": "tx"}, "transform": [{"filter": "datum.p=='F'&&datum.k=='lt'"}], "mark": {"type": "text", "style": "lt"}, "encoding": {"text": {"field": "s"}}},
  {"data": {"name": "tx"}, "transform": [{"filter": "datum.p=='F'&&datum.k=='x10'"}], "mark": {"type": "text", "style": "x10"}, "encoding": {"text": {"field": "s"}}},
  {"data": {"name": "tx"}, "transform": [{"filter": "datum.p=='F'&&datum.k=='ex'"}], "mark": {"type": "text", "style": "ex"}, "encoding": {"text": {"field": "s"}}},
  {"data": {"name": "tx"}, "transform": [{"filter": "datum.p=='F'&&datum.k=='esi'"}], "mark": {"type": "text", "style": "esi"}, "encoding": {"text": {"field": "s"}}},
  {"data": {"name": "tx"}, "transform": [{"filter": "datum.p=='F'&&datum.k=='sc'"}], "mark": {"type": "text", "style": "sc"}, "encoding": {"text": {"field": "s"}}},
  {"data": {"name": "tx"}, "transform": [{"filter": "datum.p=='F'&&datum.k=='an'"}], "mark": {"type": "text", "style": "an"}, "encoding": {"text": {"field": "s"}}},
  {"data": {"name": "tx"}, "transform": [{"filter": "datum.p=='F'&&datum.k=='in'"}], "mark": {"type": "text", "style": "in"}, "encoding": {"text": {"field": "s"}}}
 ]},
{"width": 926, "height": 179,
 "encoding": {"x": {"field": "t", "type": "quantitative", "scale": {"domain": [9.6, 18.74], "nice": false, "zero": false}, "axis": null},
  "y": {"field": "v", "type": "quantitative", "scale": {"domain": [-0.3241, 7.963], "nice": false, "zero": false}, "axis": {"values": [0, 2.5, 5]}}},
 "layer": [
  {"data": {"name": "tr"}, "transform": [{"filter": "datum.p=='G'"}], "mark": {"type": "line", "color": "black", "strokeWidth": 1.1}},
  {"data": {"name": "gd"}, "transform": [{"filter": "datum.p=='G'"}], "mark": {"type": "rule", "color": "black", "strokeWidth": 1, "strokeDash": [4, 3]}, "encoding": {"x2": {"field": "t2"}, "y2": {"field": "v2"}}},
  {"data": {"name": "ax"}, "transform": [{"filter": "datum.p=='G'"}], "mark": {"type": "rule", "color": "black", "strokeWidth": 1}, "encoding": {"y2": {"field": "v2"}}},
  {"data": {"name": "ar"}, "transform": [{"filter": "datum.p=='G'"}], "mark": {"type": "rule", "color": "black", "strokeWidth": 1.6}, "encoding": {"x2": {"field": "t2"}, "y2": {"field": "v2"}}},
  {"data": {"name": "ah"}, "transform": [{"filter": "datum.p=='G'"}], "mark": {"type": "point", "shape": "M0,0L0.45,1L-0.45,1Z", "filled": true, "color": "black", "opacity": 1, "size": 1400, "angle": 217}},
  {"data": {"name": "tx"}, "transform": [{"filter": "datum.p=='G'&&datum.k=='lt'"}], "mark": {"type": "text", "style": "lt"}, "encoding": {"text": {"field": "s"}}},
  {"data": {"name": "tx"}, "transform": [{"filter": "datum.p=='G'&&datum.k=='x10'"}], "mark": {"type": "text", "style": "x10"}, "encoding": {"text": {"field": "s"}}},
  {"data": {"name": "tx"}, "transform": [{"filter": "datum.p=='G'&&datum.k=='ex'"}], "mark": {"type": "text", "style": "ex"}, "encoding": {"text": {"field": "s"}}},
  {"data": {"name": "tx"}, "transform": [{"filter": "datum.p=='G'&&datum.k=='esi'"}], "mark": {"type": "text", "style": "esi"}, "encoding": {"text": {"field": "s"}}},
  {"data": {"name": "tx"}, "transform": [{"filter": "datum.p=='G'&&datum.k=='sc'"}], "mark": {"type": "text", "style": "sc"}, "encoding": {"text": {"field": "s"}}},
  {"data": {"name": "tx"}, "transform": [{"filter": "datum.p=='G'&&datum.k=='an'"}], "mark": {"type": "text", "style": "an"}, "encoding": {"text": {"field": "s"}}},
  {"data": {"name": "tx"}, "transform": [{"filter": "datum.p=='G'&&datum.k=='in'"}], "mark": {"type": "text", "style": "in"}, "encoding": {"text": {"field": "s"}}}
 ]},
{"width": 926, "height": 179,
 "encoding": {"x": {"field": "t", "type": "quantitative", "scale": {"domain": [9.6, 18.74], "nice": false, "zero": false}, "axis": {"values": [10, 11, 12, 13, 14, 15, 16, 17, 18], "title": "Retention", "titleFont": "Lato", "titleFontSize": 23, "titleFontWeight": "normal", "titleColor": "black", "titlePadding": 14, "offset": 7.5, "tickSize": 9, "tickColor": "black", "domainColor": "#555555", "domainWidth": 2, "labelFont": "Liberation Sans", "labelFontSize": 16, "labelColor": "black", "labelPadding": -1, "labelFlush": false, "grid": false}},
  "y": {"field": "v", "type": "quantitative", "scale": {"domain": [0.1545, 3.409], "nice": false, "zero": false}, "axis": {"values": [1, 2]}}},
 "layer": [
  {"data": {"name": "tr"}, "transform": [{"filter": "datum.p=='H'"}], "mark": {"type": "line", "color": "black", "strokeWidth": 1.1}},
  {"data": {"name": "gd"}, "transform": [{"filter": "datum.p=='H'"}], "mark": {"type": "rule", "color": "black", "strokeWidth": 1, "strokeDash": [4, 3]}, "encoding": {"x2": {"field": "t2"}, "y2": {"field": "v2"}}},
  {"data": {"name": "ax"}, "transform": [{"filter": "datum.p=='H'"}], "mark": {"type": "rule", "color": "black", "strokeWidth": 1}, "encoding": {"y2": {"field": "v2"}}},
  {"data": {"name": "tx"}, "transform": [{"filter": "datum.p=='H'&&datum.k=='lt'"}], "mark": {"type": "text", "style": "lt"}, "encoding": {"text": {"field": "s"}}},
  {"data": {"name": "tx"}, "transform": [{"filter": "datum.p=='H'&&datum.k=='x10'"}], "mark": {"type": "text", "style": "x10"}, "encoding": {"text": {"field": "s"}}},
  {"data": {"name": "tx"}, "transform": [{"filter": "datum.p=='H'&&datum.k=='ex'"}], "mark": {"type": "text", "style": "ex"}, "encoding": {"text": {"field": "s"}}},
  {"data": {"name": "tx"}, "transform": [{"filter": "datum.p=='H'&&datum.k=='esi'"}], "mark": {"type": "text", "style": "esi"}, "encoding": {"text": {"field": "s"}}},
  {"data": {"name": "tx"}, "transform": [{"filter": "datum.p=='H'&&datum.k=='sc'"}], "mark": {"type": "text", "style": "sc"}, "encoding": {"text": {"field": "s"}}},
  {"data": {"name": "tx"}, "transform": [{"filter": "datum.p=='H'&&datum.k=='in'"}], "mark": {"type": "text", "style": "in"}, "encoding": {"text": {"field": "s"}}},
  {"data": {"name": "tx"}, "transform": [{"filter": "datum.p=='H'&&datum.k=='tm'"}], "mark": {"type": "text", "style": "tm"}, "encoding": {"text": {"field": "s"}}}
 ]}
]
}
